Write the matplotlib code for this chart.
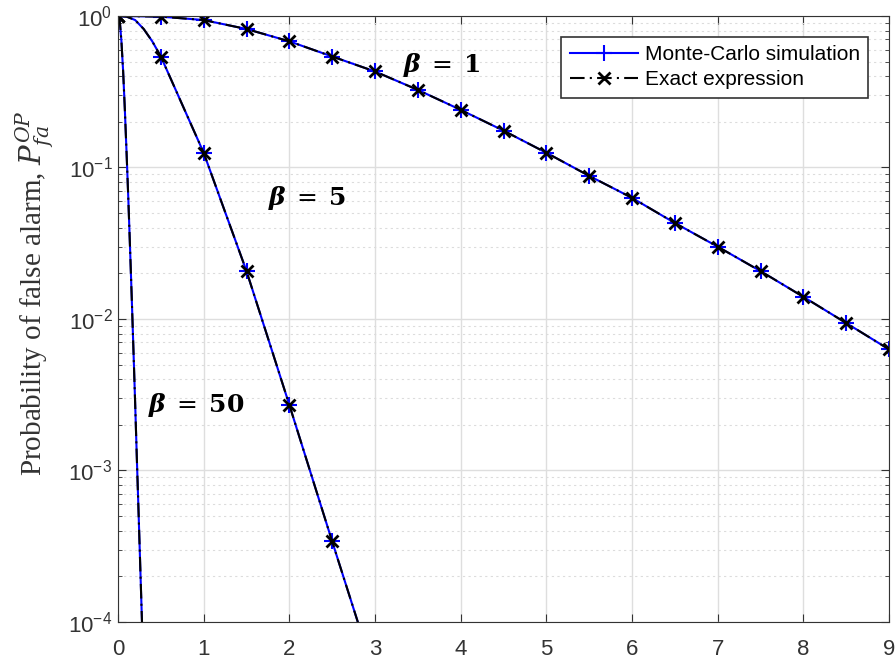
import numpy as np
import matplotlib
matplotlib.use('Agg')
import matplotlib.pyplot as plt
from matplotlib.ticker import LogLocator, NullFormatter

plt.rcParams['font.family'] = ['Liberation Sans', 'DejaVu Sans']
plt.rcParams['mathtext.fontset'] = 'dejavuserif'

# marker points (step 0.5)
x_b1 = [0, 0.5, 1, 1.5, 2, 2.5, 3, 3.5, 4, 4.5, 5, 5.5, 6, 6.5, 7, 7.5, 8, 8.5, 9]
p_b1 = [1.0, 0.99, 0.94, 0.82, 0.68, 0.54, 0.43, 0.325, 0.24, 0.175, 0.125,
        0.088, 0.063, 0.043, 0.030, 0.0207, 0.0140, 0.0094, 0.0063]

x_b5 = [0, 0.1, 0.2, 0.3, 0.4, 0.5, 1, 1.5, 2, 2.5, 3]
p_b5 = [1.0, 0.99, 0.94, 0.82, 0.68, 0.54, 0.125, 0.0207, 0.00271, 3.4e-4, 4.4e-5]
mk_b5 = [0, 5, 6, 7, 8, 9]

x_b50 = [0, 0.02, 0.04, 0.06, 0.08, 0.1, 0.12, 0.14, 0.16, 0.18, 0.2,
         0.22, 0.24, 0.26, 0.28, 0.3]
p_b50 = [1.0, 0.94, 0.68, 0.43, 0.24, 0.125, 0.063, 0.030, 0.014, 0.0063,
         0.0028, 0.0012, 5.3e-4, 2.3e-4, 1.0e-4, 4.4e-5]
mk_b50 = [0]

fig = plt.figure(figsize=(8.96, 6.65), dpi=100)
ax = fig.add_axes([0.1317, 0.0647, 0.8605, 0.9113])

curves = [(x_b1, p_b1, list(range(len(x_b1)))),
          (x_b5, p_b5, mk_b5),
          (x_b50, p_b50, mk_b50)]

for i, (xx, pp, mk) in enumerate(curves):
    ax.semilogy(xx, pp, '-', color='blue', lw=1.5, marker='+', ms=12,
                mew=1.5, markevery=mk,
                label='Monte-Carlo simulation' if i == 0 else None)
    ax.semilogy(xx, pp, '-.', color='black', lw=1.5, marker='x', ms=9,
                mew=2, markevery=mk, dashes=(7, 2.5, 1, 2.5),
                label='Exact expression' if i == 0 else None)

ax.set_xlim(0, 9)
ax.set_ylim(1e-4, 1)
ax.set_xticks(range(10))
ax.yaxis.set_major_locator(LogLocator(base=10, numticks=10))
ax.yaxis.set_minor_locator(LogLocator(base=10, subs=np.arange(2, 10), numticks=20))
ax.yaxis.set_minor_formatter(NullFormatter())

ax.grid(True, which='major', color='#dedede', lw=1, ls='-')
ax.grid(True, which='minor', axis='y', color='#dcdcdc', lw=0.8, ls=(0, (2, 3)))
ax.set_axisbelow(True)
ax.tick_params(which='both', direction='in', top=True, right=True,
               labelsize=16, labelcolor='#333333', colors='#333333')
ax.tick_params(which='major', length=6)
ax.tick_params(axis='x', which='major', pad=12)
ax.tick_params(axis='y', which='major', pad=4)
ax.tick_params(which='minor', length=3)
for s in ax.spines.values():
    s.set_color('#333333')

ax.set_ylabel('Probability of false alarm, $P_{fa}^{OP}$', family='Liberation Serif',
              fontsize=21, color='#333333')
ax.yaxis.set_label_coords(-0.08, 0.543)

tkw = dict(fontsize=18, family='DejaVu Serif', va='center')
ax.text(3.33, 0.475, r'$\mathbfit{\beta}\;=\;\mathbf{1}$', **tkw)
ax.text(1.75, 0.063, r'$\mathbfit{\beta}\;=\;\mathbf{5}$', **tkw)
ax.text(0.35, 0.0027, r'$\mathbfit{\beta}\;=\;\mathbf{50}$', **tkw)

leg = ax.legend(loc='upper right', fontsize=15, frameon=True, fancybox=False,
                edgecolor='#333333', framealpha=1, handlelength=3.3,
                borderaxespad=1.0, handletextpad=0.3, labelspacing=0.3,
                borderpad=0.4)
leg.get_frame().set_linewidth(1.2)

fig.savefig('out.png', dpi=100)
